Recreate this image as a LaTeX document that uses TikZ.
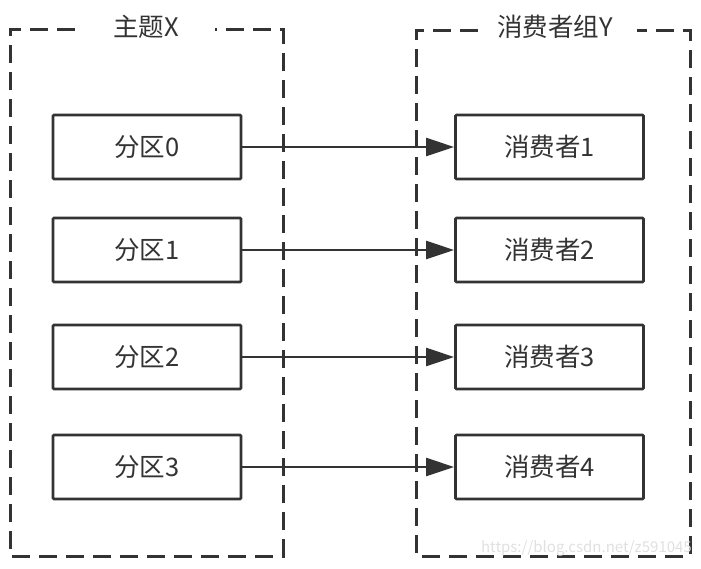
\documentclass[tikz,border=0pt]{standalone}
\usepackage{fontspec}
\setmainfont{Noto Sans CJK SC}
\usetikzlibrary{arrows.meta}
\definecolor{ink}{HTML}{333333}
\tikzset{
  part/.style={draw=ink, line width=2.8pt, rounded corners=1pt, fill=white,
    minimum width=188pt, minimum height=64pt, inner sep=0pt,
    text=ink, font=\fontsize{25.5}{28}\selectfont},
  group/.style={draw=ink, line width=3pt, dash pattern=on 18pt off 9pt},
  title/.style={text=ink, font=\fontsize{25.5}{28}\selectfont, inner sep=0pt},
  link/.style={draw=ink, line width=2.4pt, -{Triangle[length=28pt,width=18pt]}},
}
\begin{document}
\begin{tikzpicture}[x=1pt,y=-1pt]
\useasboundingbox (0,0) rectangle (701,568);
% group frames
\coordinate (la) at (75,29);
\coordinate (lb) at (215,29);
\coordinate (ra) at (478,30);
\coordinate (rb) at (637,30);
\draw[group] (la) -- (10,29) -- (10,556) -- (283,556) -- (283,29) -- (lb);
\draw[group] (ra) -- (416,30) -- (416,556) -- (690,556) -- (690,30) -- (rb);
\node[title] (tx) at (146,27) {主题X};
\node[title] (ty) at (555,27) {消费者组Y};
% partitions
\node[part] (p0) at (147,147) {分区0};
\node[part] (p1) at (147,250) {分区1};
\node[part] (p2) at (147,357) {分区2};
\node[part] (p3) at (147,467) {分区3};
% consumers
\node[part] (c1) at (549.5,147) {消费者1};
\node[part] (c2) at (549.5,250) {消费者2};
\node[part] (c3) at (549.5,357) {消费者3};
\node[part] (c4) at (549.5,467) {消费者4};
% links
\draw[link] (p0) -- (c1);
\draw[link] (p1) -- (c2);
\draw[link] (p2) -- (c3);
\draw[link] (p3) -- (c4);
% watermark
\node[text=black!12, font=\fontsize{15}{17}\selectfont, anchor=east, inner sep=0pt] (wm) at (692,548) {https://blog.csdn.net/z591045};
\end{tikzpicture}
\end{document}
